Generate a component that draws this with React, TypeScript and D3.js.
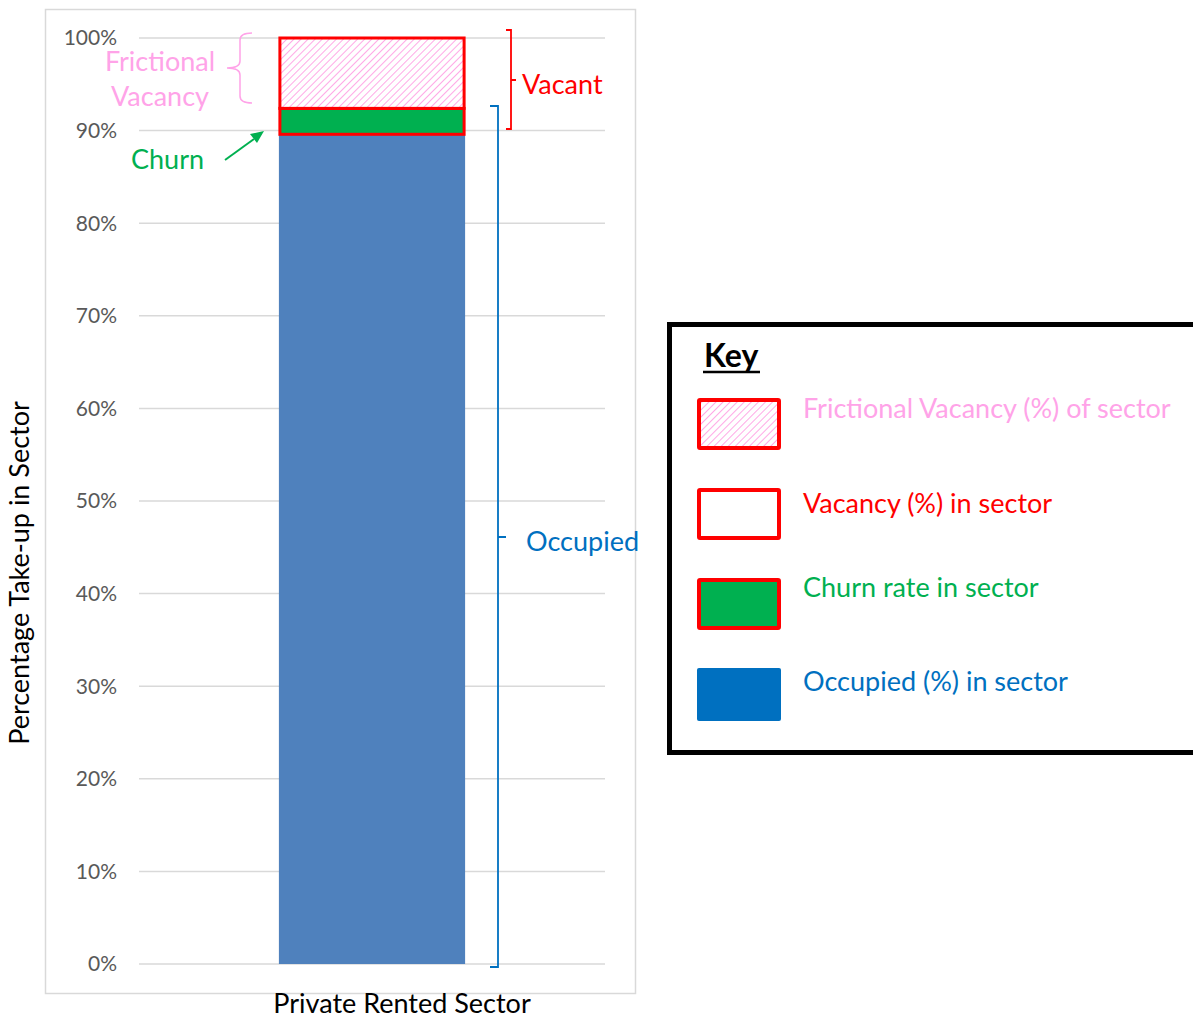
import React from "react";
import * as d3 from "d3";

const categories = ["Private Rented Sector"];
const occupied = [0.896];
const churn = [0.028];
const frictional = [0.076];
const yTicks = [0, 0.1, 0.2, 0.3, 0.4, 0.5, 0.6, 0.7, 0.8, 0.9, 1.0];
const legendItems = [
  { label: "Frictional Vacancy (%) of sector", kind: "hatch", color: "#FFA3E8" },
  { label: "Vacancy (%) in sector", kind: "empty", color: "#FF0000" },
  { label: "Churn rate in sector", kind: "green", color: "#00B050" },
  { label: "Occupied (%) in sector", kind: "blue", color: "#0070C0" },
];

const FONT = "Lato, 'Open Sans', sans-serif";

export default function App() {
  const y = d3.scaleLinear().domain([0, 1]).range([964, 38]);
  const x = d3.scaleBand().domain(categories).range([139, 605]).paddingInner(0.429).paddingOuter(0.429);
  const fmt = d3.format(".0%");
  const bw = x.bandwidth();
  const red = "#FF0000";
  const pink = "#FFA3E8";
  const green = "#00B050";
  const blue = "#0070C0";
  const FS = 27;

  return (
    <div style={{ position: "absolute", left: 0, top: 0 }}>
      <svg width={1193} height={1019} style={{ display: "block", fontFamily: FONT }}>
        <defs>
          <pattern id="hatch" patternUnits="userSpaceOnUse" width={5} height={5} patternTransform="rotate(45)">
            <rect width={5} height={5} fill="#ffffff" />
            <line x1={0} y1={0} x2={0} y2={5} stroke="#FF9FE4" strokeWidth={1.8} />
          </pattern>
        </defs>
        <rect x={0} y={0} width={1193} height={1019} fill="#ffffff" />
        {/* chart area border */}
        <rect x={45.5} y={9.5} width={590} height={984} fill="none" stroke="#D9D9D9" strokeWidth={1.5} />
        {/* gridlines */}
        {yTicks.map((t) => (
          <line key={t} x1={139} x2={605} y1={y(t)} y2={y(t)} stroke="#D9D9D9" strokeWidth={1.5} />
        ))}
        {/* tick labels */}
        {yTicks.map((t) => (
          <text key={"l" + t} x={117} y={y(t)} dy="0.35em" textAnchor="end" fontSize={21} fill="#595959">
            {fmt(t)}
          </text>
        ))}
        {/* bars */}
        {categories.map((c, i) => {
          const x0 = x(c) as number;
          const o = occupied[i];
          const ch = churn[i];
          const f = frictional[i];
          return (
            <g key={c}>
              <rect x={x0} y={y(o)} width={bw} height={y(0) - y(o)} fill="#4F81BD" />
              <rect x={x0 + 1} y={y(o + ch)} width={bw - 2} height={y(o) - y(o + ch)} fill={green} stroke={red} strokeWidth={3} />
              <rect x={x0 + 1} y={y(o + ch + f)} width={bw - 2} height={y(o + ch) - y(o + ch + f)} fill="url(#hatch)" stroke={red} strokeWidth={3} />
            </g>
          );
        })}
        {/* x label */}
        <text x={402} y={1004} dy="0.35em" textAnchor="middle" fontSize={FS} fill="#000">
          {categories[0]}
        </text>
        {/* y label */}
        <text transform="translate(20,573) rotate(-90)" dy="0.35em" textAnchor="middle" fontSize={FS} fill="#000">
          Percentage Take-up in Sector
        </text>
        {/* frictional annotation */}
        <text x={160} y={62} dy="0.35em" textAnchor="middle" fontSize={FS} fill={pink}>Frictional</text>
        <text x={160} y={97} dy="0.35em" textAnchor="middle" fontSize={FS} fill={pink}>Vacancy</text>
        <path
          d="M252,33 Q240,33 240,40 L240,61 Q240,68 227,68 Q240,68 240,75 L240,96 Q240,103 252,103"
          fill="none"
          stroke={pink}
          strokeWidth={1.5}
        />
        {/* vacant bracket */}
        <path d="M506,30 L511,30 L511,129 L506,129 M511,80 L516,80" fill="none" stroke={red} strokeWidth={1.8} />
        <text x={522} y={85} dy="0.35em" fontSize={FS} fill={red}>Vacant</text>
        {/* occupied bracket */}
        <path d="M490,106 L498,106 L498,967 L490,967 M498,537 L506,537" fill="none" stroke={blue} strokeWidth={1.8} />
        <text x={526} y={542} dy="0.35em" fontSize={FS} fill={blue}>Occupied</text>
        {/* churn annotation */}
        <text x={131} y={160} dy="0.35em" fontSize={FS} fill={green}>Churn</text>
        <line x1={225} y1={160} x2={254} y2={139} stroke={green} strokeWidth={2} />
        <path d="M264,131 L250,134 L257,143 Z" fill={green} />
        {/* legend */}
        <rect x={669.5} y={324.5} width={560} height={428} fill="#fff" stroke="#000" strokeWidth={5} />
        <text x={704} y={356} dy="0.35em" fontSize={32} fontWeight="bold" fill="#000">Key</text>
        <line x1={703} x2={760} y1={372} y2={372} stroke="#000" strokeWidth={2.5} />
        {legendItems.map((it, i) => {
          const ys = [398, 488, 578, 668][i];
          const ty = [409, 504, 588, 682][i];
          let sw;
          if (it.kind === "hatch") {
            sw = <rect x={699} y={ys + 2} width={80} height={48} fill="url(#hatch)" stroke={red} strokeWidth={4} rx={1} />;
          } else if (it.kind === "empty") {
            sw = <rect x={699} y={ys + 2} width={80} height={48} fill="#fff" stroke={red} strokeWidth={4} rx={1} />;
          } else if (it.kind === "green") {
            sw = <rect x={699} y={ys + 2} width={80} height={48} fill={green} stroke={red} strokeWidth={4} rx={1} />;
          } else {
            sw = <rect x={697} y={ys} width={84} height={53} fill={blue} rx={2} />;
          }
          return (
            <g key={it.label}>
              {sw}
              <text x={803} y={ty} dy="0.35em" fontSize={FS} fill={it.color}>{it.label}</text>
            </g>
          );
        })}
      </svg>
    </div>
  );
}
